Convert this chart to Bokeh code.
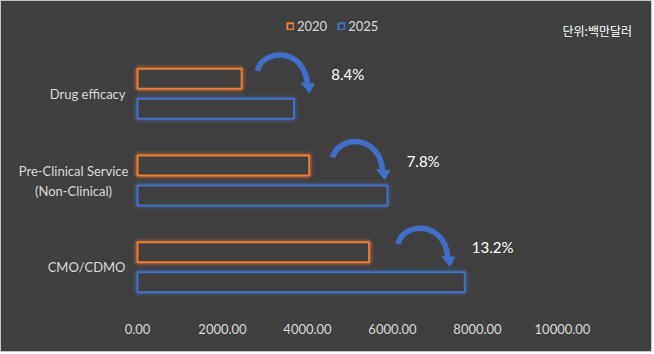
from bokeh.plotting import figure
from bokeh.models import (ColumnDataSource, FixedTicker, NumeralTickFormatter, Range1d,
                          Legend, LegendItem, Label)
from bokeh.transform import dodge
from bokeh.core.properties import value
from bokeh.embed import file_html
from bokeh.resources import INLINE

# ---- data ----
categories = ["Drug efficacy", "Pre-Clinical Service\n(Non-Clinical)", "CMO/CDMO"]
values_2020 = [2450, 4040, 5450]
values_2025 = [3680, 5880, 7700]
growth = ["8.4%", "7.8%", "13.2%"]
series_names = ["2020", "2025"]
x_ticks = [0, 2000, 4000, 6000, 8000, 10000]
unit_label = "단위:백만달러"

BG = "#404040"
ORANGE = "#ED7D31"
BLUE = "#4472C4"
ARROW = "#3E6FC9"
TXT = "#D9D9D9"
FONT = "Lato"

W, H = 652, 352
# plot area of the bars inside the canvas (px)
PL, PR, PT, PB = 136, 561, 49, 309
XMAX = 10000
n = len(categories)
ux = XMAX / (PR - PL)          # data units per px (x)
uy = n / (PB - PT)             # data units per px (y), y grows downward

yidx = list(range(n))
src = ColumnDataSource(dict(y=yidx, v20=values_2020, v25=values_2025))

p = figure(width=W, height=H, output_backend="svg", toolbar_location=None,
           x_range=Range1d(-PL * ux, XMAX + (W - PR) * ux),
           y_range=Range1d(n - 0.5, -0.5 - PT * uy),
           background_fill_color=BG, border_fill_color=BG,
           min_border_left=0, min_border_right=0, min_border_top=0,
           min_border_bottom=H - PB)
p.styles = {"border": "1px solid #c6c6c6", "background-color": BG}
p.outline_line_color = None
p.xgrid.visible = False
p.ygrid.visible = False
p.yaxis.visible = False

bh = 20 * uy
off = 15 * uy

r20 = r25 = None
for col, color, dy in (("v20", ORANGE, -off), ("v25", BLUE, off)):
    yy = dodge("y", dy)
    # glow
    p.hbar(y=yy, right=col, left=0, height=bh, source=src, fill_color=None,
           line_color=color, line_width=9, line_alpha=0.12)
    p.hbar(y=yy, right=col, left=0, height=bh, source=src, fill_color=None,
           line_color=color, line_width=5, line_alpha=0.25)
    r = p.hbar(y=yy, right=col, left=0, height=bh, source=src, fill_color=BG,
               line_color=color, line_width=2)
    if col == "v20":
        r20 = r
    else:
        r25 = r

# curved arrows + growth labels, anchored to the values
bx0, by0, bx1, by1, cx0, cy0, cx1, cy1 = ([] for _ in range(8))
hx, hy = [], []
tx, ty = [], []
for i in yidx:
    x0 = values_2020[i] + 0.3 * (values_2025[i] - values_2020[i])
    bx0.append(x0); by0.append(i - 23 * uy)
    cx0.append(x0 + 6 * ux); cy0.append(i - 46 * uy)
    cx1.append(x0 + 47 * ux); cy1.append(i - 46 * uy)
    bx1.append(x0 + 50 * ux); by1.append(i - 10 * uy)
    hx.append([x0 + 44 * ux, x0 + 57 * ux, x0 + 52 * ux])
    hy.append([i - 11 * uy, i - 10 * uy, i - 1 * uy])
    tx.append(x0 + 74 * ux); ty.append(i - 20 * uy)

p.bezier(x0=bx0, y0=by0, x1=bx1, y1=by1, cx0=cx0, cy0=cy0, cx1=cx1, cy1=cy1,
         line_color=ARROW, line_width=5.5)
p.patches(xs=hx, ys=hy, fill_color=ARROW, line_color=ARROW, line_width=1)
p.text(x=tx, y=ty, text=growth, text_color="white", text_font=value(FONT),
       text_font_size="15px", text_baseline="middle", text_align="left")

# category labels (multi-line labels centred, like the original)
lab_x = [(-12 if "\n" not in c else -64) * ux for c in categories]
lab_align = ["right" if "\n" not in c else "center" for c in categories]
p.text(x=lab_x, y=yidx, text=categories, text_align=lab_align,
       text_baseline="middle", text_color=TXT, text_font=value(FONT),
       text_font_size="13px", text_line_height=1.25)

# x axis
p.xaxis.ticker = FixedTicker(ticks=x_ticks)
p.xaxis.formatter = NumeralTickFormatter(format="0.00")
p.xaxis.axis_line_color = None
p.xaxis.major_tick_line_color = None
p.xaxis.minor_tick_line_color = None
p.xaxis.major_label_text_color = TXT
p.xaxis.major_label_text_font = FONT
p.xaxis.major_label_text_font_size = "13px"
p.xaxis.major_label_standoff = 7

# legend
legend = Legend(items=[LegendItem(label=series_names[0], renderers=[r20]),
                       LegendItem(label=series_names[1], renderers=[r25])],
                orientation="horizontal", location=(285, 276),
                background_fill_alpha=0, border_line_color=None,
                padding=0, margin=0, spacing=10,
                glyph_width=8, glyph_height=8, label_standoff=3,
                label_text_color=TXT, label_text_font=FONT,
                label_text_font_size="13px", label_height=16)
p.add_layout(legend)

p.add_layout(Label(x=XMAX, y=-0.5 - 20 * uy, text=unit_label, text_color="white",
                   text_font="Noto Sans CJK KR", text_font_size="12px",
                   text_baseline="middle", text_align="left"))

open("out.html", "w").write(file_html(p, INLINE))
